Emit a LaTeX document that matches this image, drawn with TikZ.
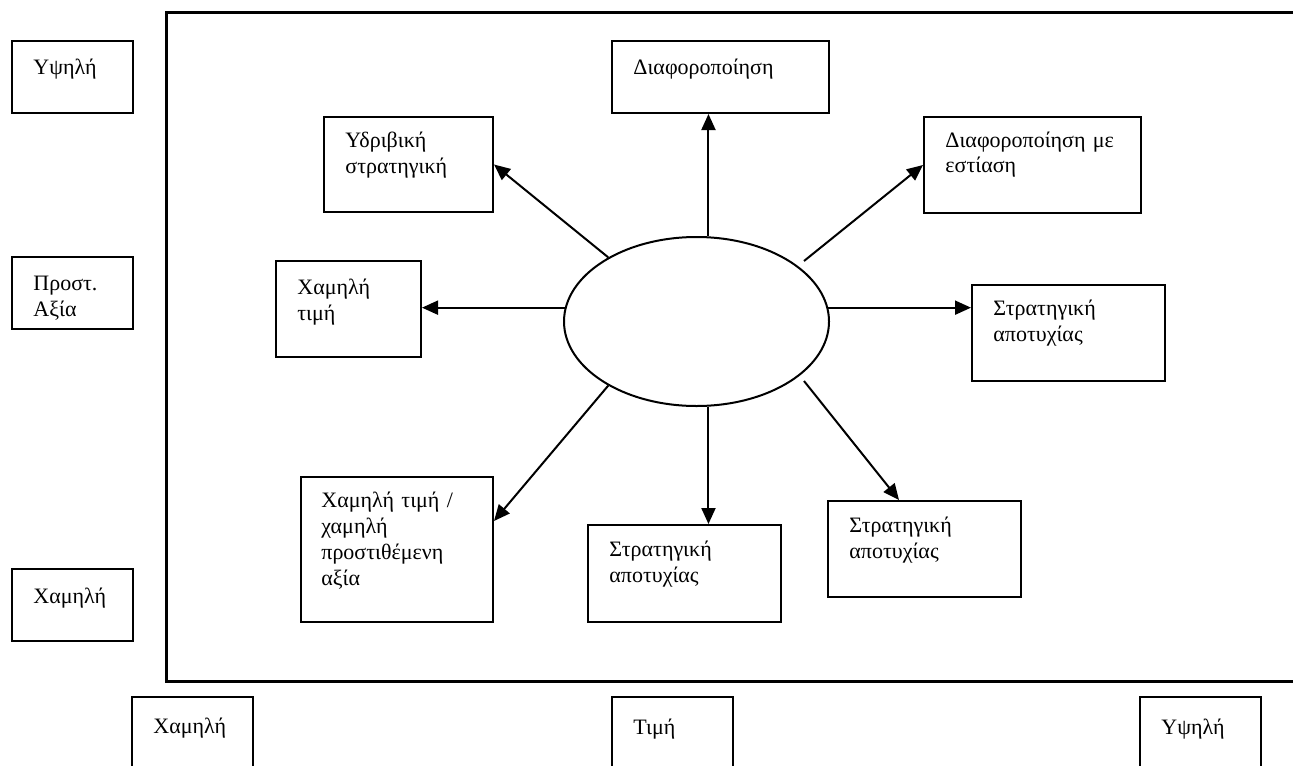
\documentclass[tikz,border=0pt]{standalone}
\usepackage{fontspec}
\setmainfont{Liberation Serif}
\usetikzlibrary{arrows.meta,calc,shapes.geometric,fit}
\begin{document}
\begin{tikzpicture}[x=0.5pt,y=-0.5pt,
  boxst/.style={draw, inner sep=0pt, line width=1pt},
  txt/.style={anchor=base west, inner sep=0pt, text width=200pt, align=left,
    font=\fontsize{11pt}{13pt}\selectfont},
  arr/.style={-{Triangle[length=8pt,width=7pt]}, line width=1pt}]
\useasboundingbox (0,0) rectangle (1293,765);
\clip (0,0) rectangle (1293,765);
% frame
\draw[line width=1.5pt] (1300,13) -- (166,13) -- (166,681) -- (1300,681);
% axis boxes
\node[boxst, fit={(12,41) (133,113)}] (l1) {};
\node[txt] (l1t) at (33,75) {Υψηλή};
\node[boxst, fit={(12,257) (133,329)}] (l2) {};
\node[txt] (l2t) at (33,290) {Προστ.\\Αξία};
\node[boxst, fit={(12,569) (133,641)}] (l3) {};
\node[txt] (l3t) at (33,603) {Χαμηλή};
\node[boxst, fit={(132,697) (253,775)}] (b1) {};
\node[txt] (b1t) at (153,733) {Χαμηλή};
\node[boxst, fit={(612,697) (733,775)}] (b2) {};
\node[txt] (b2t) at (633,734) {Τιμή};
\node[boxst, fit={(1140,697) (1261,775)}] (b3) {};
\node[txt] (b3t) at (1161,734) {Υψηλή};
% strategy boxes
\node[boxst, fit={(612,41) (829,113)}] (d1) {};
\node[txt] (d1t) at (633,75) {Διαφοροποίηση};
\node[boxst, fit={(324,117) (493,212)}] (yb) {};
\node[txt] (ybt) at (345,148) {Υδριβική\\στρατηγική};
\node[boxst, fit={(924,117) (1141,213)}] (dm) {};
\node[txt] (dmt) at (945,147) {Διαφοροποίηση με\\εστίαση};
\node[boxst, fit={(276,261) (421,357)}] (ct) {};
\node[txt] (ctt) at (297,294) {Χαμηλή\\τιμή};
\node[boxst, fit={(972,285) (1165,381)}] (sr) {};
\node[txt] (srt) at (993,315) {Στρατηγική\\αποτυχίας};
\node[boxst, fit={(301,477) (493,622)}] (ll) {};
\node[txt] (llt) at (321,507) {Χαμηλή τιμή /\\χαμηλή\\προστιθέμενη\\αξία};
\node[boxst, fit={(588,525) (781,622)}] (sm) {};
\node[txt] (smt) at (609,556) {Στρατηγική\\αποτυχίας};
\node[boxst, fit={(828,501) (1021,597)}] (br) {};
\node[txt] (brt) at (849,532) {Στρατηγική\\αποτυχίας};
% ellipse
\node[draw, ellipse, inner sep=0pt, line width=1pt,
  minimum width=132.5pt, minimum height=84.5pt] (e) at (696.5,321.5) {};
% arrows
\draw[arr] (e.82) -- (e.82 |- d1.south);
\draw[arr] (e.144) -- (yb.east);
\coordinate (urs) at ($(e.center)+(107.5,-60.5)$);
\draw[arr] (urs) -- (dm.west);
\draw[arr] (e.174) -- (e.174 -| ct.east);
\draw[arr] (e.6) -- (e.6 -| sr.west);
\draw[arr] (e.216) -- ($(ll.north east)+(0,45)$);
\draw[arr] (e.278) -- (e.278 |- sm.north);
\coordinate (lrs) at ($(e.center)+(107.5,59.5)$);
\draw[arr] (lrs) -- ($(br.north west)+(72,0)$);
\end{tikzpicture}
\end{document}
